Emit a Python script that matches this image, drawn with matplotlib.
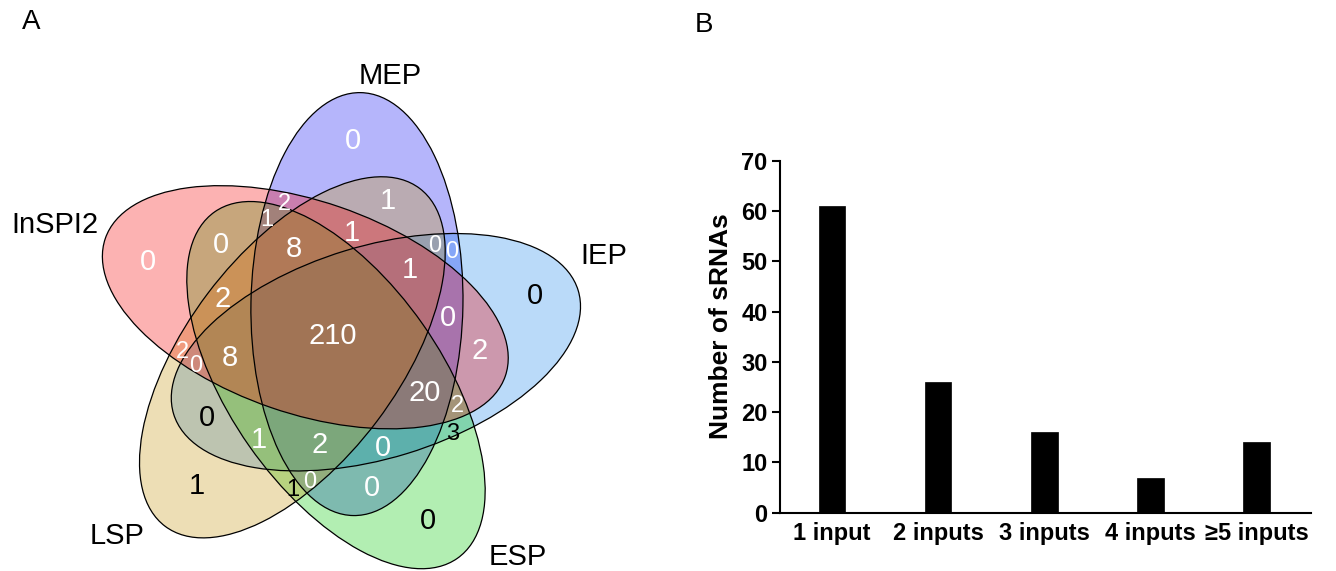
import numpy as np
import matplotlib.pyplot as plt
from matplotlib.patches import Ellipse
from matplotlib.colors import to_rgba

plt.rcParams['font.family'] = ['Liberation Sans', 'DejaVu Sans']

# ---- Panel B data
bar_labels = ['1 input', '2 inputs', '3 inputs', '4 inputs', '≥5 inputs']
bar_values = [61, 26, 16, 7, 14]

# ---- Panel A data (5-set Venn)
# sets in clockwise order, starting at the top
set_names = ['MEP', 'IEP', 'ESP', 'LSP', 'InSPI2']
set_colors = ['#0A0AF2', '#1C86EE', '#00C800', '#C6940A', '#F80000']
draw_order = ['MEP', 'IEP', 'ESP', 'LSP', 'InSPI2']

region_counts = [0, 0, 0, 0, 1,
                 2, 1, 0, 8, 2,
                 1, 1, 0, 0, 1,
                 0, 2, 210, 20, 2,
                 3, 0, 0, 2, 0,
                 8, 0, 1, 2, 1, 0]

# layout (pixel coords of the left panel), text colour, small font
region_xy = [(148, 259), (353, 138), (535, 293), (428, 518), (197, 483),
             (284, 202), (267, 217), (221, 242), (294, 246), (223, 296),
             (388, 198), (352, 230), (435, 243), (452, 250), (410, 267),
             (448, 315), (480, 348), (333, 333), (425, 390), (457, 404),
             (453, 432), (383, 445), (372, 485), (182, 350), (196, 363),
             (230, 355), (207, 415), (259, 437), (320, 442), (293, 488), (310, 480)]
region_dark = {2, 3, 4, 20, 26, 29}
region_small = {5, 6, 12, 13, 19, 20, 23, 24, 29, 30}

set_label_xy = {'MEP': (390, 73), 'IEP': (604, 253), 'ESP': (518, 554),
                'LSP': (117, 533), 'InSPI2': (55, 222)}

# ellipse geometry (pixels)
CX, CY, R_OFF, PHI = 333.3, 341.2, 44.0, 32.5
A_MINOR, B_MAJOR, DELTA = 106.0, 211.5, 1.0

W, H = 1336, 571
fig = plt.figure(figsize=(W / 100, H / 100), dpi=100)

# ---------------- Panel A
axv = fig.add_axes([0, 0, 660 / W, 1])
axv.set_xlim(0, 660)
axv.set_ylim(H, 0)
axv.axis('off')

geom = {}
for k, name in enumerate(set_names):
    ang = np.deg2rad(PHI + 72 * k)
    ex = CX + R_OFF * np.sin(ang)
    ey = CY - R_OFF * np.cos(ang)
    geom[name] = (ex, ey, DELTA + 72 * k)

for z, name in enumerate(draw_order):
    ex, ey, theta = geom[name]
    col = set_colors[set_names.index(name)]
    axv.add_patch(Ellipse((ex, ey), 2 * A_MINOR, 2 * B_MAJOR, angle=theta,
                          facecolor=to_rgba(col, 0.3), edgecolor='none', zorder=1 + z))
for name in set_names:
    ex, ey, theta = geom[name]
    axv.add_patch(Ellipse((ex, ey), 2 * A_MINOR, 2 * B_MAJOR, angle=theta,
                          fill=False, edgecolor='black', lw=0.9, zorder=10))

for i, (cnt, (x, y)) in enumerate(zip(region_counts, region_xy)):
    axv.text(x, y, str(cnt), ha='center', va='center_baseline',
             fontsize=17 if i in region_small else 21,
             color='black' if i in region_dark else 'white', zorder=11)

for name, (x, y) in set_label_xy.items():
    axv.text(x, y, name, ha='center', va='center_baseline', fontsize=21, zorder=11)

# ---------------- Panel B
axb = fig.add_axes([780 / W, (H - 512.7) / H, 530.7 / W, 352 / H])
xpos = np.arange(len(bar_values))
axb.bar(xpos, bar_values, width=0.25, color='black', edgecolor='black', lw=0.5)
axb.set_xlim(-0.49, 4.508)
axb.set_ylim(0, 70)
axb.set_yticks(range(0, 71, 10))
axb.set_xticks(xpos)
axb.set_xticklabels(bar_labels)
for s in ['top', 'right']:
    axb.spines[s].set_visible(False)
for s in ['left', 'bottom']:
    axb.spines[s].set_linewidth(1.5)
axb.tick_params(axis='y', direction='out', length=6, width=1.5, labelsize=17, pad=3)
axb.tick_params(axis='x', length=0, labelsize=17, pad=7)
for lbl in axb.get_xticklabels() + axb.get_yticklabels():
    lbl.set_fontweight('bold')
axb.set_ylabel('Number of sRNAs', fontsize=19, fontweight='bold')
axb.yaxis.set_label_coords(-0.0886, 0.53)

fig.text(31 / W, 1 - 22 / H, 'A', fontsize=20, ha='center', va='center')
fig.text(704 / W, 1 - 25 / H, 'B', fontsize=20, ha='center', va='center')

fig.savefig('out.png', dpi=100)
